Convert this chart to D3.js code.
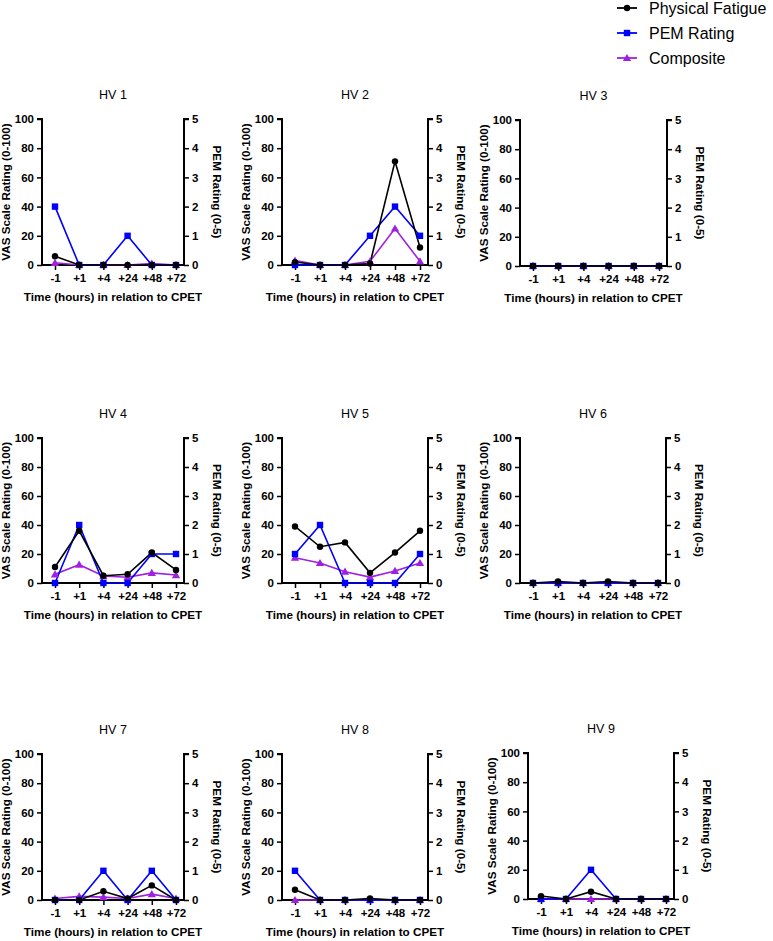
<!DOCTYPE html>
<html>
<head>
<meta charset="utf-8">
<script src="https://cdn.jsdelivr.net/npm/d3@7"></script>
<style>
  html, body { margin: 0; padding: 0; background: #fff; }
  svg { display: block; font-family: Arial, "Liberation Sans", sans-serif; }
</style>
</head>
<body>
<svg id="chart" width="773" height="941"></svg>
<script>
// ---- Data ----
const timepoints = ["-1", "+1", "+4", "+24", "+48", "+72"];
const panelTitles = ["HV 1", "HV 2", "HV 3", "HV 4", "HV 5", "HV 6", "HV 7", "HV 8", "HV 9"];
const seriesNames = ["Physical Fatigue", "PEM Rating", "Composite"];
const vasTicks = [0, 20, 40, 60, 80, 100];
const pemTicks = [0, 1, 2, 3, 4, 5];

// Physical Fatigue (VAS 0-100)
const physicalFatigue = [
  [6, 0, 0, 0, 0, 0],
  [2, 0, 0, 1, 71, 12],
  [0, 0, 0, 0, 0, 0],
  [11, 36, 5, 6, 21, 9],
  [39, 25, 28, 7, 21, 36],
  [0, 1, 0, 1, 0, 0],
  [0, 0, 6, 1, 10, 0],
  [7, 0, 0, 1, 0, 0],
  [2, 0, 5, 0, 0, 0]
];
// PEM Rating (0-5)
const pemRating = [
  [2, 0, 0, 1, 0, 0],
  [0, 0, 0, 1, 2, 1],
  [0, 0, 0, 0, 0, 0],
  [0, 2, 0, 0, 1, 1],
  [1, 2, 0, 0, 0, 1],
  [0, 0, 0, 0, 0, 0],
  [0, 0, 1, 0, 1, 0],
  [1, 0, 0, 0, 0, 0],
  [0, 0, 1, 0, 0, 0]
];
// Composite (VAS 0-100)
const composite = [
  [1.5, 0, 0, 0, 1, 0],
  [3, 0, 0, 2.5, 25, 2.5],
  [0, 0, 0, 0, 0, 0],
  [6, 12.6, 4.8, 4, 7, 5.5],
  [17.4, 13.8, 7.8, 4.1, 8.3, 13.8],
  [0, 0, 0, 0, 0, 0],
  [1, 2.5, 2, 1, 4, 1],
  [0, 0, 0, 0, 0, 0],
  [0, 0, 0, 0, 0, 0]
];

// ---- Layout ----
const panelLeft   = [42, 282, 520, 42, 282, 520, 42, 282, 528];
const panelRight  = [184, 428, 667, 184, 428, 666, 184, 428, 674];
const panelTop    = [119, 119, 120, 438, 438, 438, 754, 754, 753];
const panelBottom = [265, 265, 266, 583, 583, 583, 900, 900, 899];

const colors = { pf: "#000000", pem: "#0000ff", comp: "#a020e0" };
const svg = d3.select("#chart");

function drawMarker(g, type, x, y, color) {
  if (type === "circle") {
    g.append("circle").attr("cx", x).attr("cy", y).attr("r", 3.2).attr("fill", color);
  } else if (type === "square") {
    g.append("rect").attr("x", x - 3.2).attr("y", y - 3.2).attr("width", 6.4).attr("height", 6.4).attr("fill", color);
  } else {
    g.append("path").attr("d", d3.symbol(d3.symbolTriangle, 30)()).attr("transform", `translate(${x},${y + 0.7})`).attr("fill", color);
  }
}

panelTitles.forEach((title, i) => {
  const L = panelLeft[i], R = panelRight[i], T = panelTop[i], B = panelBottom[i];
  const g = svg.append("g");
  const x = d3.scalePoint().domain(timepoints).range([L + 13, R - 8]);
  const yL = d3.scaleLinear().domain([0, 100]).range([B, T]);
  const yR = d3.scaleLinear().domain([0, 5]).range([B, T]);

  // series: composite (bottom), PEM, physical fatigue (top)
  const series = [
    { vals: composite[i], scale: yL, color: colors.comp, type: "triangle" },
    { vals: pemRating[i], scale: yR, color: colors.pem, type: "square" },
    { vals: physicalFatigue[i], scale: yL, color: colors.pf, type: "circle" }
  ];

  // axes
  const axL = g.append("g").attr("transform", `translate(${L},0)`)
    .call(d3.axisLeft(yL).tickValues(vasTicks).tickFormat(d3.format("d")).tickSize(5).tickPadding(3));
  const axR = g.append("g").attr("transform", `translate(${R},0)`)
    .call(d3.axisRight(yR).tickValues(pemTicks).tickFormat(d3.format("d")).tickSize(5).tickPadding(3));
  const axB = g.append("g").attr("transform", `translate(0,${B})`)
    .call(d3.axisBottom(x).tickSize(5).tickPadding(4));
  [axL, axR, axB].forEach(a => {
    a.select(".domain").attr("stroke", "#000").attr("stroke-width", 2);
    a.selectAll(".tick line").attr("stroke", "#000").attr("stroke-width", 1.5);
    a.selectAll(".tick text").attr("fill", "#000").style("font-size", "11.5px").style("font-weight", "bold")
      .style("font-family", "Arial, 'Liberation Sans', sans-serif");
  });
  axB.select(".domain").attr("d", `M${L},0H${R}`);
  axL.select(".domain").attr("d", `M-5,${T}H0V${B}`);
  axR.select(".domain").attr("d", `M5,${T}H0V${B}`);

  // lines and markers
  series.forEach(s => {
    const line = d3.line().x((d, j) => x(timepoints[j])).y(d => s.scale(d));
    g.append("path").datum(s.vals).attr("d", line).attr("fill", "none")
      .attr("stroke", s.color).attr("stroke-width", 1.6);
  });
  series.forEach(s => {
    s.vals.forEach((v, j) => drawMarker(g, s.type, x(timepoints[j]), s.scale(v), s.color));
  });

  // titles
  const cx = (L + R) / 2, cy = (T + B) / 2;
  g.append("text").attr("x", cx).attr("y", T - 20).attr("text-anchor", "middle")
    .style("font-size", "12.5px").text(title);
  g.append("text").attr("x", cx).attr("y", B + 36).attr("text-anchor", "middle")
    .style("font-size", "11.7px").style("font-weight", "bold").text("Time (hours) in relation to CPET");
  g.append("text").attr("transform", `translate(${L - 36},${cy}) rotate(-90)`).attr("text-anchor", "middle")
    .attr("dy", "0.35em").style("font-size", "11.7px").style("font-weight", "bold").text("VAS Scale Rating (0-100)");
  g.append("text").attr("transform", `translate(${R + 33},${cy}) rotate(90)`).attr("text-anchor", "middle")
    .attr("dy", "0.35em").style("font-size", "11.7px").style("font-weight", "bold").text("PEM Rating (0-5)");
});

// legend
const legendTypes = ["circle", "square", "triangle"];
const legendColors = [colors.pf, colors.pem, colors.comp];
const legendY = [8, 33, 58];
seriesNames.forEach((name, k) => {
  const g = svg.append("g");
  g.append("line").attr("x1", 617).attr("x2", 637).attr("y1", legendY[k]).attr("y2", legendY[k])
    .attr("stroke", legendColors[k]).attr("stroke-width", 1.8);
  drawMarker(g, legendTypes[k], 627, legendY[k], legendColors[k]);
  g.append("text").attr("x", 649).attr("y", legendY[k]).attr("dy", "0.36em")
    .style("font-size", "16px").text(name);
});
</script>
</body>
</html>
